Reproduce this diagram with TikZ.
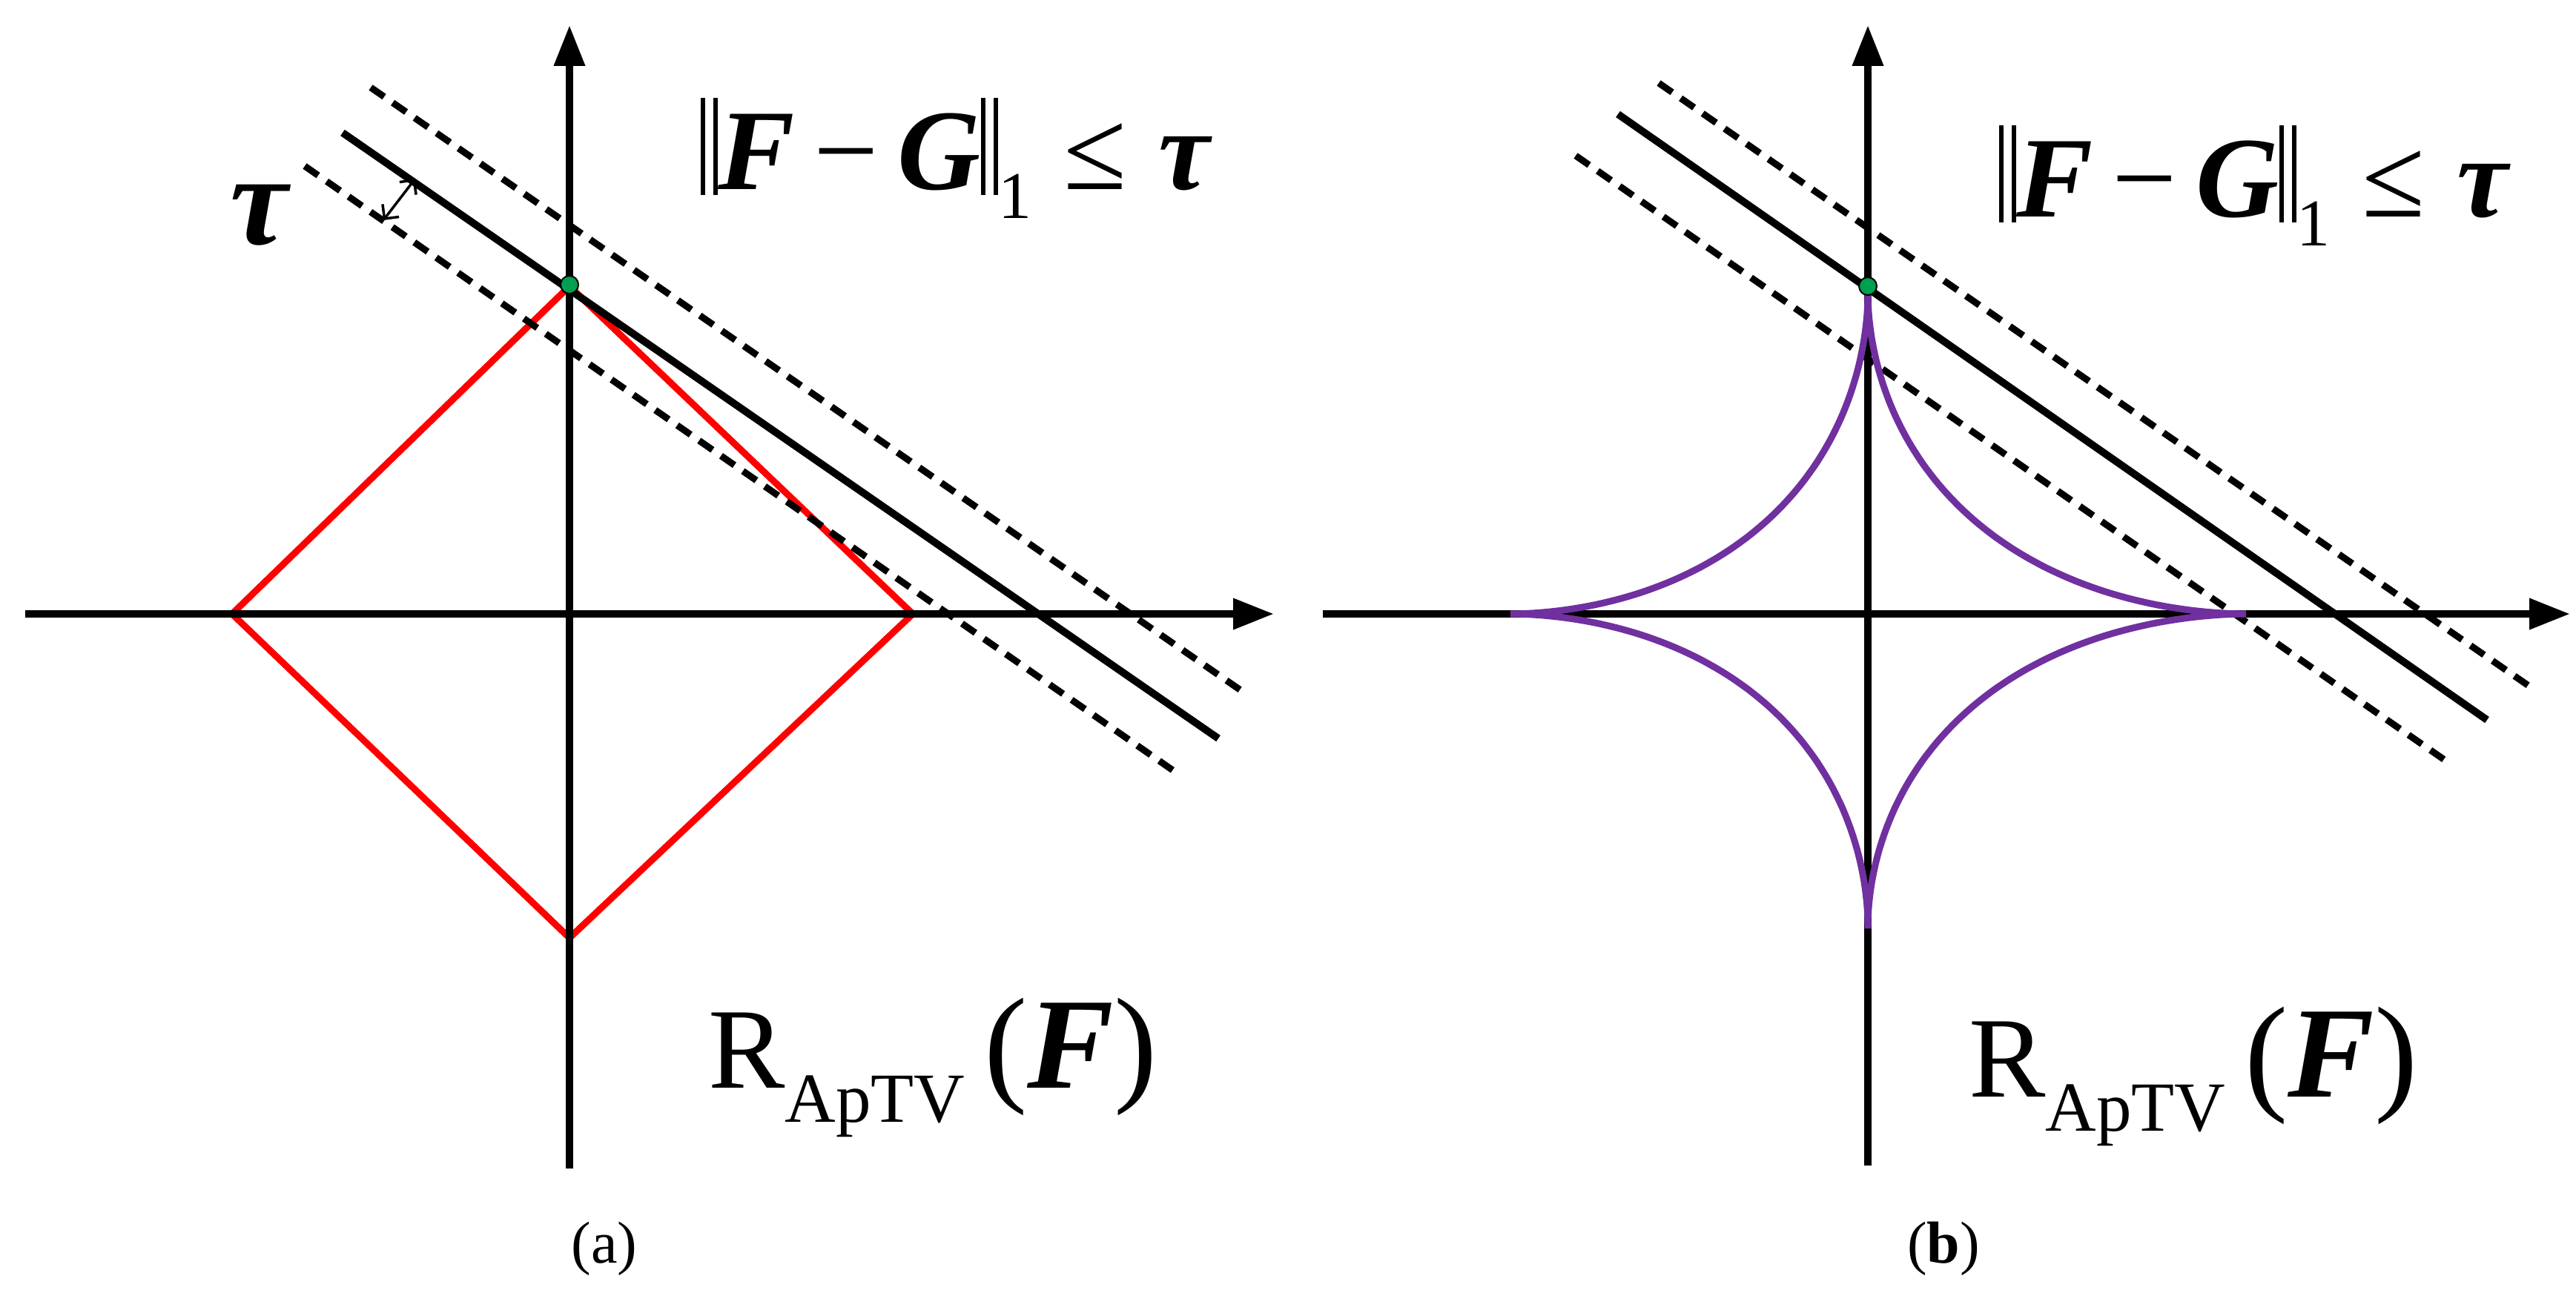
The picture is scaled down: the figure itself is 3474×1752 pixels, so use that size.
\documentclass[tikz,border=0pt]{standalone}
\usepackage{fontspec}
\setmainfont{Liberation Serif}
\usetikzlibrary{arrows.meta}
\definecolor{pur}{RGB}{112,48,160}
\definecolor{grn}{RGB}{0,160,80}
\tikzset{
 ax/.style={line width=10pt,-{Triangle[length=55pt,width=40pt]}},
 sol/.style={line width=10pt},
 dsh/.style={line width=9pt,dash pattern=on 22pt off 14pt},
 lbl/.style={inner sep=0pt,font=\fontsize{155}{180}\selectfont},
 captxt/.style={inner sep=0pt,font=\fontsize{80}{96}\selectfont},
}
\newcommand{\normtxt}{\raisebox{-0.05em}{\rule{0.04em}{0.85em}\kern0.07em\rule{0.04em}{0.85em}}\textbf{\textit{F}}\,−\,\textbf{\textit{G}}\raisebox{-0.05em}{\rule{0.04em}{0.85em}\kern0.07em\rule{0.04em}{0.85em}}\raisebox{-0.25em}{\fontsize{90}{100}\selectfont 1}\;≤\;\textbf{\textit{τ}}}
\newcommand{\rtxt}{R\raisebox{-0.3em}{\fontsize{95}{110}\selectfont ApTV}\,\fontsize{175}{200}\selectfont(\textbf{\textit{F}})}
\begin{document}
\begin{tikzpicture}[x=1pt,y=-1pt]
\useasboundingbox (0,0) rectangle (3474,1752);
% ---------- panel (a)
\coordinate (axL) at (34,828); \coordinate (axR) at (1718,828);
\coordinate (ayB) at (768,1576); \coordinate (ayT) at (768,34);
\draw[red,line width=9pt,line join=miter] (313,828) -- (768,386) -- (1231,828) -- (768,1265) -- cycle;
\draw[ax] (axL) -- (axR);
\draw[ax] (ayB) -- (ayT);
\coordinate (s1) at (462,179); \coordinate (s2) at (1643,996);
\coordinate (u1) at (500,118); \coordinate (u2) at (1679,935);
\coordinate (l1) at (411,224); \coordinate (l2) at (1589,1044);
\draw[sol] (s1) -- (s2);
\draw[dsh] (u1) -- (u2);
\draw[dsh] (l1) -- (l2);
\coordinate (t1) at (517,297); \coordinate (t2) at (560,241);
\draw[line width=3.5pt,{Straight Barb[length=14pt]}-{Straight Barb[length=14pt]}] (t1) -- (t2);
\node[circle,fill=grn,draw=black,line width=2pt,minimum size=24pt,inner sep=0pt] (ga) at (768,384) {};
\node[lbl,font=\fontsize{175}{190}\selectfont] (tau) at (352,290) {\textbf{\textit{τ}}};
\node[lbl,anchor=west] (na) at (945,213) {\normtxt};
\node[lbl,anchor=west] (ra) at (955,1440) {\rtxt};
\node[captxt] (ca) at (815,1684) {(a)};
% ---------- panel (b)
\coordinate (bxL) at (1784,828); \coordinate (bxR) at (3466,828);
\coordinate (byB) at (2519,1572); \coordinate (byT) at (2519,34);
\draw[ax] (bxL) -- (bxR);
\draw[ax] (byB) -- (byT);
\coordinate (bs1) at (2182,154); \coordinate (bs2) at (3354,971);
\coordinate (bu1) at (2237,112); \coordinate (bu2) at (3416,929);
\coordinate (bl1) at (2125,210); \coordinate (bl2) at (3304,1030);
\draw[sol] (bs1) -- (bs2);
\draw[dsh] (bu1) -- (bu2);
\draw[dsh] (bl1) -- (bl2);
\begin{scope}[shift={(2519,828)},pur,line width=9pt]
\draw plot[domain=0:90,samples=120,smooth] ({510*pow(cos(\x),3.6)},{-431*pow(sin(\x),3.6)});
\draw plot[domain=0:90,samples=120,smooth] ({-482*pow(cos(\x),3.6)},{-431*pow(sin(\x),3.6)});
\draw plot[domain=0:90,samples=120,smooth] ({-482*pow(cos(\x),3.6)},{420*pow(sin(\x),3.6)});
\draw plot[domain=0:90,samples=120,smooth] ({510*pow(cos(\x),3.6)},{420*pow(sin(\x),3.6)});
\end{scope}
\node[circle,fill=grn,draw=black,line width=2pt,minimum size=24pt,inner sep=0pt] (gb) at (2519,386) {};
\node[lbl,anchor=west] (nb) at (2696,250) {\normtxt};
\node[lbl,anchor=west] (rb) at (2655,1452) {\rtxt};
\node[captxt] (cb) at (2621,1684) {(\textbf{b})};
\end{tikzpicture}
\end{document}
